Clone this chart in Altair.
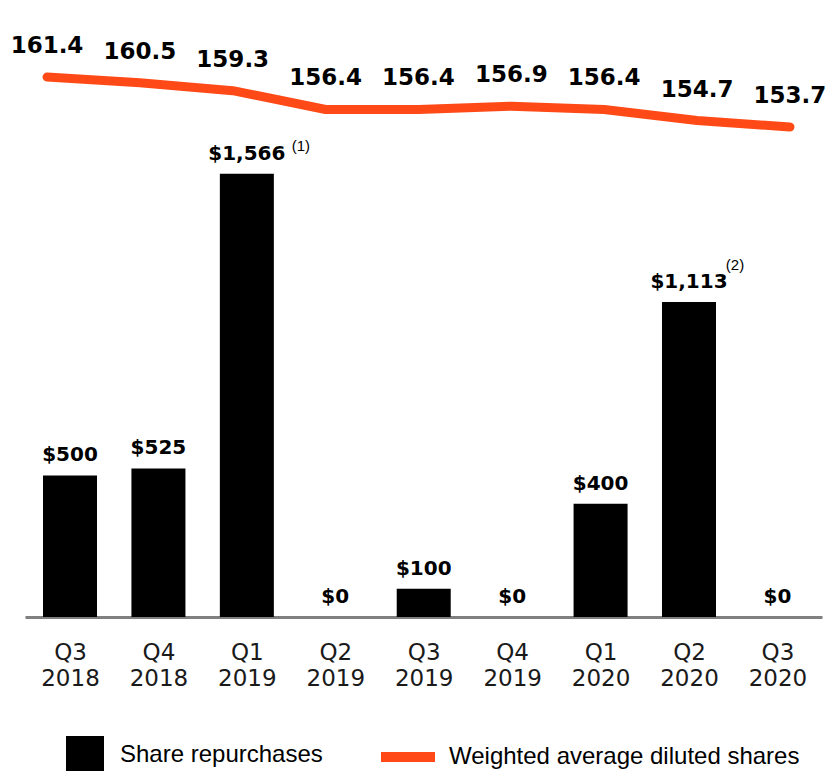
import altair as alt
import pandas as pd

quarters = ["Q3", "Q4", "Q1", "Q2", "Q3", "Q4", "Q1", "Q2", "Q3"]
years = ["2018", "2018", "2019", "2019", "2019", "2019", "2020", "2020", "2020"]
repurchases = [500, 525, 1566, 0, 100, 0, 400, 1113, 0]
diluted_shares = [161.4, 160.5, 159.3, 156.4, 156.4, 156.9, 156.4, 154.7, 153.7]
notes = ["", "", "(1)", "", "", "", "", "(2)", ""]

df = pd.DataFrame({
    "idx": list(range(len(quarters))),
    "rep": repurchases,
    "shares": diluted_shares,
    "note": notes,
    "s1": ["Share repurchases"] * len(quarters),
    "s2": ["Weighted average diluted shares"] * len(quarters),
})

ORANGE = "#FF4A17"
FONT = "DejaVu Sans"

label_expr = "[" + ",".join(f"['{q}','{y}']" for q, y in zip(quarters, years)) + "][datum.value]"

bar_x_scale = alt.Scale(domain=[-0.5089, 8.504], nice=False, zero=False, padding=0)
line_x_scale = alt.Scale(domain=[-0.2369, 8.345], nice=False, zero=False, padding=0)
bar_y_scale = alt.Scale(domain=[0, 2180], nice=False, zero=False, padding=0)
line_y_scale = alt.Scale(domain=[78.3, 173.25], nice=False, zero=False, padding=0)

base = alt.Chart(df)

bars = base.mark_bar(size=54).encode(
    x=alt.X("idx:Q", scale=bar_x_scale, axis=alt.Axis(
        values=list(range(len(quarters))), labelExpr=label_expr, grid=False,
        ticks=False, tickSize=0, domainColor="#808080", domainWidth=3,
        labelPadding=42, labelBaseline="alphabetic", labelFontSize=23,
        labelFont=FONT, labelColor="#1a1a1a", labelLineHeight=26, title=None,
        labelFlush=False, labelOverlap=False)),
    y=alt.Y("rep:Q", scale=bar_y_scale, axis=None),
    color=alt.Color("s1:N", scale=alt.Scale(range=["black"]), legend=alt.Legend(
        title=None, orient="none", legendX=41, legendY=736, symbolType="square",
        symbolSize=1444, symbolStrokeWidth=0, labelFont="Liberation Sans",
        labelFontSize=24, labelColor="black", labelOffset=16, padding=0,
        labelLimit=0)),
)

bar_text = base.transform_calculate(
    lab="format(datum.rep, '$,')"
).mark_text(font=FONT, fontSize=20, fontWeight="bold", baseline="alphabetic",
            dy=-14, color="black").encode(
    x=alt.X("idx:Q", scale=bar_x_scale, axis=None),
    y=alt.Y("rep:Q", scale=bar_y_scale, axis=None),
    text="lab:N",
)

note1 = base.transform_filter("datum.note == '(1)'").mark_text(
    font="Liberation Sans", fontSize=15, baseline="middle", dx=54, dy=-28, color="black"
).encode(
    x=alt.X("idx:Q", scale=bar_x_scale, axis=None),
    y=alt.Y("rep:Q", scale=bar_y_scale, axis=None),
    text="note:N",
)

note2 = base.transform_filter("datum.note == '(2)'").mark_text(
    font="Liberation Sans", fontSize=15, baseline="middle", dx=46, dy=-37, color="black"
).encode(
    x=alt.X("idx:Q", scale=bar_x_scale, axis=None),
    y=alt.Y("rep:Q", scale=bar_y_scale, axis=None),
    text="note:N",
)

line = base.mark_line(strokeWidth=9, strokeCap="round", strokeJoin="round").encode(
    x=alt.X("idx:Q", scale=line_x_scale, axis=None),
    y=alt.Y("shares:Q", scale=line_y_scale, axis=None),
    stroke=alt.Stroke("s2:N", scale=alt.Scale(range=[ORANGE]), legend=alt.Legend(
        title=None, orient="none", legendX=351, legendY=725, symbolType="stroke",
        symbolSize=2916, symbolStrokeWidth=10, labelFont="Liberation Sans",
        labelFontSize=24, labelColor="black", labelOffset=9, padding=0,
        labelLimit=0)),
)

line_text = base.mark_text(font=FONT, fontSize=23, fontWeight="bold",
                           baseline="middle", dy=-31, color="black").encode(
    x=alt.X("idx:Q", scale=line_x_scale, axis=None),
    y=alt.Y("shares:Q", scale=line_y_scale, axis=None),
    text=alt.Text("shares:Q", format=".1f"),
)

chart = alt.layer(bars, bar_text, note1, note2, line, line_text).resolve_scale(
    x="independent", y="independent"
).properties(
    width=797, height=617,
    padding={"left": 25, "right": 7, "top": 0, "bottom": 154},
    autosize=alt.AutoSizeParams(type="none"),
).configure_view(stroke=None)

chart.save("out.html", embed_options={"renderer": "svg", "actions": False})
